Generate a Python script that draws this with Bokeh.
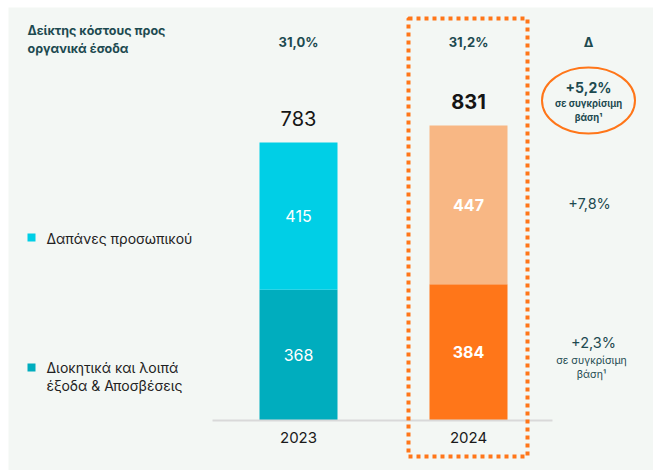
from bokeh.plotting import figure
from bokeh.models import Range1d, ColumnDataSource
from bokeh.core.properties import value
from bokeh.embed import file_html
from bokeh.resources import INLINE

# ---- data ----
years = ["2023", "2024"]
admin_other = [368, 384]       # Διοικητικά και λοιπά έξοδα & Αποσβέσεις
personnel = [415, 447]         # Δαπάνες προσωπικού
totals = [783, 831]
cost_income = ["31,0%", "31,2%"]
delta_total = "+5,2%"
delta_personnel = "+7,8%"
delta_admin = "+2,3%"
comparable_note = ["σε συγκρίσιμη", "βάση¹"]
legend_labels = ["Δαπάνες προσωπικού", "Διοκητικά και λοιπά\nέξοδα & Αποσβέσεις"]
header_label = "Δείκτης κόστους προς\nοργανικά έσοδα"

# ---- layout helpers ----
W, H = 653, 470
ML, MT = 8, 7                  # white strip left / top
FW, FH = W - ML, H - MT        # frame size
PX_PER_CAT = 170.0
X0 = 298.0 - ML                # frame pixel of first category
PX_PER_UNIT = 0.355
BASE = 420.0 - MT              # frame pixel (from top) of zero line

def dx(page_x):
    return (page_x - ML - X0) / PX_PER_CAT

def dy(page_y):
    return (BASE - (page_y - MT)) / PX_PER_UNIT

FONT = "Inter"
DARK = "#1D4A50"
BG = "#F3F7F4"
C_PERS = ["#00CFE6", "#F8B784"]
C_ADM = ["#00ADBE", "#FF7619"]

p = figure(width=W, height=H, output_backend="svg", toolbar_location=None,
           x_range=Range1d(-X0 / PX_PER_CAT, (FW - X0) / PX_PER_CAT),
           y_range=Range1d(-(FH - BASE) / PX_PER_UNIT, BASE / PX_PER_UNIT),
           x_axis_type=None, y_axis_type=None,
           min_border_left=ML, min_border_top=MT, min_border_right=0, min_border_bottom=0,
           background_fill_color=BG, border_fill_color="white", outline_line_color=None)
p.xgrid.visible = False
p.ygrid.visible = False

xs = list(range(len(years)))
src = ColumnDataSource(dict(
    x=xs, adm=admin_other, tot=totals,
    c_adm=C_ADM, c_pers=C_PERS, base=[0] * len(years),
))

bw = 78 / PX_PER_CAT
p.vbar(x="x", bottom="base", top="adm", width=bw, fill_color="c_adm", line_color=None, source=src)
p.vbar(x="x", bottom="adm", top="tot", width=bw, fill_color="c_pers", line_color=None, source=src)

# baseline
p.segment(x0=[dx(212)], y0=[0], x1=[dx(552)], y1=[0], line_color="#D9D9D9", line_width=2)

# inner labels
for i, bold in zip(xs, ["normal", "bold"]):
    p.text(x=[i], y=[admin_other[i] / 2], text=[str(admin_other[i])], text_color="white",
           text_font=value(FONT), text_font_size="16px", text_font_style=bold,
           text_align="center", text_baseline="middle")
    p.text(x=[i], y=[admin_other[i] + personnel[i] / 2], text=[str(personnel[i])],
           text_color="white", text_font=value(FONT), text_font_size="16px",
           text_font_style=bold, text_align="center", text_baseline="middle")
    p.text(x=[i], y=[totals[i]], y_offset=-24, text=[str(totals[i])], text_color="#151515",
           text_font=value(FONT), text_font_size="20px", text_font_style=bold,
           text_align="center", text_baseline="middle")

# year labels
p.text(x=xs, y=[dy(437)] * 2, text=years, text_color="#1A1A1A",
       text_font=value(FONT), text_font_size="15px", text_align="center", text_baseline="middle")

# header row
p.text(x=[dx(27)], y=[dy(39)], text=[header_label], text_color=DARK, text_font=value(FONT),
       text_font_size="12.5px", text_font_style="bold", text_align="left", text_baseline="middle",
       text_line_height=1.2)
p.text(x=xs, y=[dy(41)] * 2, text=cost_income, text_color=DARK, text_font=value(FONT),
       text_font_size="13px", text_font_style="bold", text_align="center", text_baseline="middle")
p.text(x=[dx(588)], y=[dy(41)], text=["Δ"], text_color=DARK, text_font=value(FONT),
       text_font_size="13px", text_font_style="bold", text_align="center", text_baseline="middle")

# highlight box around 2024
p.quad(left=[dx(408)], right=[dx(527)], top=[dy(18)], bottom=[dy(456)], fill_color=None,
       line_color="#FF7619", line_width=4, line_dash="4 4", line_cap="butt")

# delta column
p.ellipse(x=[dx(588)], y=[dy(100)], width=[93], height=[66], width_units="screen",
          height_units="screen", fill_color=None, line_color="#FF7619", line_width=2)
p.text(x=[dx(588)], y=[dy(87)], text=[delta_total], text_color=DARK, text_font=value(FONT),
       text_font_size="14px", text_font_style="bold", text_align="center", text_baseline="middle")
p.text(x=[dx(588)] * 2, y=[dy(103), dy(117)], text=comparable_note, text_color=DARK,
       text_font=value(FONT), text_font_size="9.5px", text_font_style="bold",
       text_align="center", text_baseline="middle")
p.text(x=[dx(589)], y=[dy(203)], text=[delta_personnel], text_color=DARK, text_font=value(FONT),
       text_font_size="14.5px", text_align="center", text_baseline="middle")
p.text(x=[dx(593)], y=[dy(342)], text=[delta_admin], text_color=DARK, text_font=value(FONT),
       text_font_size="14.5px", text_align="center", text_baseline="middle")
p.text(x=[dx(591)] * 2, y=[dy(360), dy(374)], text=comparable_note, text_color=DARK,
       text_font=value(FONT), text_font_size="10.5px", text_align="center", text_baseline="middle")

# legend
p.rect(x=[dx(31)] * 2, y=[dy(237), dy(367)], width=[8, 8], height=[8, 8],
       width_units="screen", height_units="screen", fill_color=[C_PERS[0], C_ADM[0]], line_color=None)
p.text(x=[dx(46)], y=[dy(238)], text=[legend_labels[0]], text_color="#222222",
       text_font=value(FONT), text_font_size="14px", text_align="left", text_baseline="middle")
p.text(x=[dx(46)], y=[dy(376)], text=[legend_labels[1]], text_color="#222222",
       text_font=value(FONT), text_font_size="14px", text_align="left", text_baseline="middle",
       text_line_height=1.1)

open("out.html", "w").write(file_html(p, INLINE))
